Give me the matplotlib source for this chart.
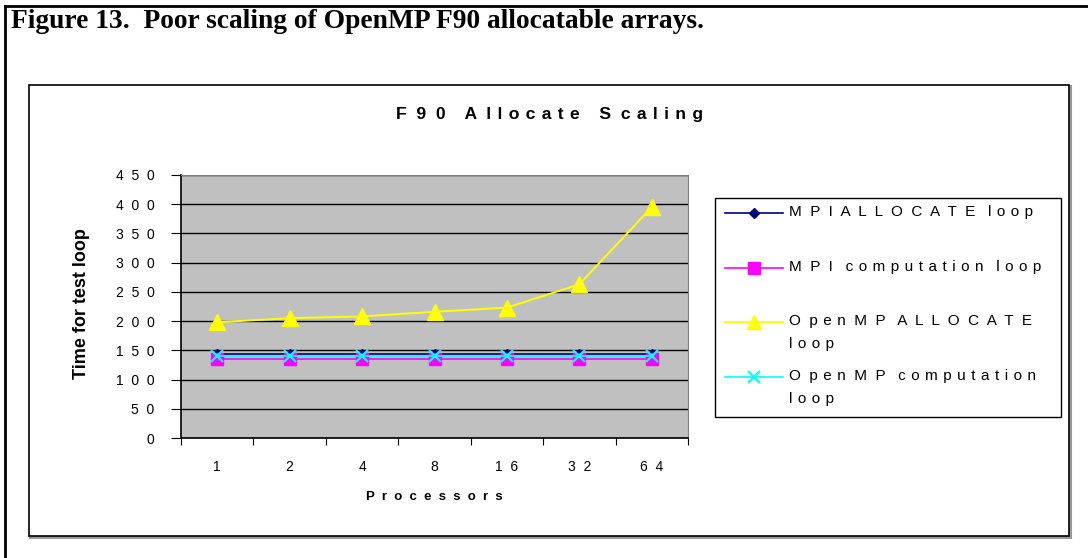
import matplotlib.pyplot as plt
from matplotlib.lines import Line2D
from matplotlib.patches import Rectangle

# data
processors = ['1', '2', '4', '8', '16', '32', '64']
mpi_allocate = [143, 143, 143, 143, 143, 143, 143]
mpi_computation = [135, 135, 135, 135, 135, 135, 135]
omp_allocate = [198, 205, 208, 216, 223, 263, 395]
omp_computation = [140, 140, 140, 140, 140, 140, 140]
series_names = ['MPIALLOCATE loop', 'MPI computation loop',
                'OpenMP ALLOCATE\nloop', 'OpenMP computation\nloop']
y_ticks = [0, 50, 100, 150, 200, 250, 300, 350, 400, 450]


def spaced_word(w):
    # wide letter spacing like the original, tighter between lower case letters
    out = w[0]
    for a, b in zip(w, w[1:]):
        out += ' \u200a' if (a.islower() and b.islower()) else '  '
        out += b
    return out


def spaced(s, gap='   '):
    return '\n'.join(gap.join(spaced_word(w) for w in line.split(' '))
                     for line in s.split('\n'))


W, H = 1088, 558
plt.rcParams['font.family'] = ['Liberation Sans', 'DejaVu Sans']
fig = plt.figure(figsize=(W / 100, H / 100), dpi=100)


def px(x, y):
    return x / W, 1 - y / H


# outer frame (only top and left edge visible)
fig.add_artist(Line2D([5 / W, 5 / W], [0, 1 - 6 / H], color='black', lw=2, zorder=-5))
fig.add_artist(Line2D([5 / W, 1], [1 - 6 / H, 1 - 6 / H], color='black', lw=2, zorder=-5))

# chart box with a little grey shadow
fig.add_artist(Rectangle(px(30, 537), 1040 / W, 451 / H, facecolor='none',
                         edgecolor='#999999', lw=2.2, zorder=-4))
fig.add_artist(Rectangle(px(29, 536), 1040 / W, 451 / H, facecolor='white',
                         edgecolor='black', lw=1.2, zorder=-3))

fig.text(*px(11, 28), 'Figure 13.  Poor scaling of OpenMP F90 allocatable arrays.',
         family='Liberation Serif', fontweight='bold', fontsize=19.8, va='baseline', ha='left')

ax = fig.add_axes([181 / W, 1 - 438 / H, 507 / W, 263 / H])
ax.set_facecolor('#C0C0C0')
x = list(range(len(processors)))

styles = [
    dict(color='#000080', marker='D', ms=5, lw=1.2),
    dict(color='#FF00FF', marker='s', ms=9, lw=1.2),
    dict(color='#FFFF00', marker='^', ms=11, lw=1.4),
    dict(color='#00FFFF', marker='x', ms=9, mew=1.6, lw=1.2),
]
all_series = [mpi_allocate, mpi_computation, omp_allocate, omp_computation]
for vals, st in zip(all_series, styles):
    ax.plot(x, vals, **st)

ax.set_xlim(-0.5, len(processors) - 0.5)
ax.set_ylim(0, 450)
ax.set_yticks(y_ticks)
ax.set_yticklabels([spaced(str(v)) for v in y_ticks], fontsize=10)
ax.yaxis.grid(True, color='black', lw=1)
ax.set_axisbelow(True)

ax.set_xticks([i - 0.5 for i in range(len(processors) + 1)])
ax.set_xticklabels([])
ax.set_xticks(x, minor=True)
ax.set_xticklabels([spaced(p) for p in processors], minor=True, fontsize=10)
ax.tick_params(axis='x', which='minor', length=0, pad=16)
ax.tick_params(axis='x', which='major', direction='out', length=5, color='black')
ax.tick_params(axis='y', direction='out', length=7, color='black', pad=12)

for side in ['top', 'right']:
    ax.spines[side].set_color('#808080')
for side in ['left', 'bottom']:
    ax.spines[side].set_color('black')
    ax.spines[side].set_linewidth(1.2)

fig.text(*px(434, 497), '  '.join('Processors'), fontweight='bold', fontsize=9.5,
         ha='center', va='center')
fig.text(*px(81, 304), 'Time for test loop', fontweight='bold', fontsize=13,
         rotation=90, ha='center', va='center')
fig.text(*px(550, 115), spaced('F90 Allocate Scaling', '    '), fontweight='bold', fontsize=12.6,
         ha='center', va='center')

# legend, drawn by hand so the marker sits on the first text line
fig.add_artist(Rectangle(px(715, 417), 346 / W, 219 / H, facecolor='white',
                         edgecolor='black', lw=1))
entry_y = [213, 268, 322, 377]
for name, st, yy in zip(series_names, styles, entry_y):
    fig.add_artist(Line2D([725 / W, 783 / W], [1 - yy / H] * 2, color=st['color'], lw=st['lw']))
    fig.add_artist(Line2D([754 / W], [1 - yy / H], linestyle='none', marker=st['marker'],
                          ms=st['ms'] * 0.95, mew=st.get('mew', 1), color=st['color']))
    fig.text(789 / W, 1 - (yy - 8) / H, spaced(name), fontsize=11, ha='left', va='top',
             linespacing=1.8)

fig.savefig('out.png', dpi=100)
